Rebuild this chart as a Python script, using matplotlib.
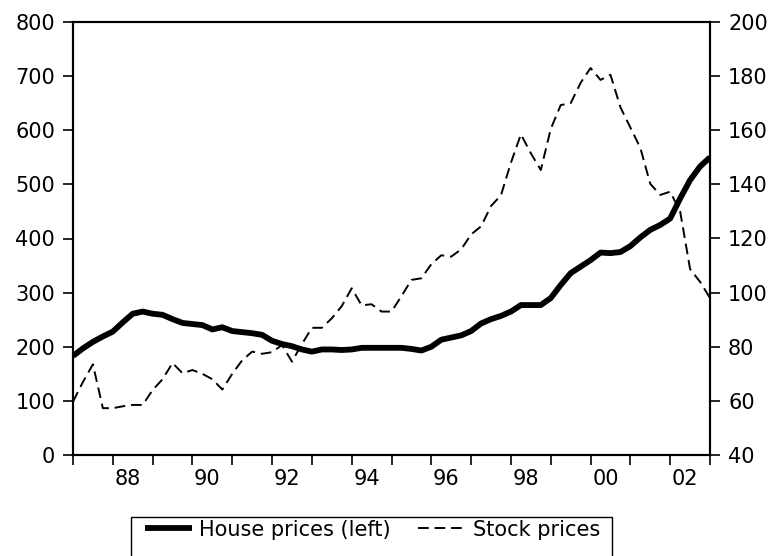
import numpy as np
import matplotlib
matplotlib.use('Agg')
import matplotlib.pyplot as plt
import matplotlib.patches as patches
from matplotlib.ticker import FixedLocator, NullFormatter

plt.rcParams['font.family'] = ['DejaVu Sans']

# quarterly, 1987Q1 .. 2003Q1
first_year = 1987
n_obs = 65

# house prices (left axis)
house = [183, 197, 209, 219, 228, 245, 261, 265, 261, 259,
         251, 244, 242, 240, 232, 236, 229, 227, 225, 222,
         211, 205, 201, 195, 191, 195, 195, 194, 195, 198,
         198, 198, 198, 198, 196, 193, 200, 213, 217, 221,
         229, 243, 251, 257, 265, 277, 277, 277, 290, 314,
         336, 348, 360, 374, 373, 375, 386, 402, 416, 425,
         437, 474, 508, 533, 550]

# stock prices (right axis)
stock = [59.7, 67, 73.5, 57.3, 57.3, 58, 58.5, 58.5, 64, 68,
         74, 70.2, 71.4, 70, 68, 64.2, 70, 75, 78.2, 77.4,
         78, 80.6, 74.5, 81, 87, 87, 90.5, 95, 101.6, 95.3,
         95.7, 93, 93, 98.7, 104.7, 105.3, 110.5, 113.8, 113.3, 116,
         121.5, 124.5, 132, 136, 148, 158.5, 151.5, 145.3, 160.5, 169.3,
         170, 177.5, 183, 178.6, 180.5, 168.5, 161, 153.5, 140.2, 136.1,
         137.3, 130, 108.7, 104, 98]

year_labels = ['88', '90', '92', '94', '96', '98', '00', '02']
label_years = [1988, 1990, 1992, 1994, 1996, 1998, 2000, 2002]

left_ticks = [0, 100, 200, 300, 400, 500, 600, 700, 800]
right_ticks = [40, 60, 80, 100, 120, 140, 160, 180, 200]

fs = 15
t = first_year + np.arange(n_obs) / 4.0

fig = plt.figure(figsize=(7.78, 5.56), dpi=100)
ax = fig.add_axes([73/778, 1-455/556, (710-73)/778, (455-22)/556])
ax2 = ax.twinx()

l1, = ax.plot(t, house, color='black', lw=4.2, solid_joinstyle='round',
              solid_capstyle='butt', label='House prices (left)')
l2, = ax2.plot(t, stock, color='black', lw=1.4, dashes=(5.5, 3),
               label='Stock prices')

ax.set_xlim(t[0], t[-1])
ax.set_ylim(0, 800)
ax2.set_ylim(40, 200)

ax.set_yticks(left_ticks)
ax2.set_yticks(right_ticks)
ax.tick_params(axis='y', labelsize=fs, length=7, width=1.2, pad=6, direction='out')
ax2.tick_params(axis='y', labelsize=fs, length=7, width=1.2, pad=6, direction='out')

# ticks at every year, labels centred in the year
ax.xaxis.set_major_locator(FixedLocator(np.arange(first_year, 2004)))
ax.xaxis.set_major_formatter(NullFormatter())
ax.xaxis.set_minor_locator(FixedLocator([y + 0.375 for y in label_years]))
ax.set_xticklabels(year_labels, minor=True)
ax.tick_params(axis='x', which='major', length=7, width=1.2, direction='out')
ax.tick_params(axis='x', which='minor', length=0, labelsize=fs, pad=10)
ax2.tick_params(axis='x', which='both', length=0)

for a in (ax, ax2):
    for s in a.spines.values():
        s.set_linewidth(1.5)

leg = fig.legend([l1, l2], ['House prices (left)', 'Stock prices'],
                 loc='upper left', bbox_to_anchor=(128/778, 1-503/556), ncol=2,
                 frameon=False, fontsize=fs, handlelength=2.25,
                 handletextpad=0.38, columnspacing=1.3, borderpad=0.3)
frame = patches.Rectangle((131/778, -0.05), (612-131)/778, (0.05 + 1-517/556),
                          transform=fig.transFigure, fill=False,
                          edgecolor='black', lw=1.0)
fig.patches.append(frame)

fig.savefig('out.png', dpi=100)
